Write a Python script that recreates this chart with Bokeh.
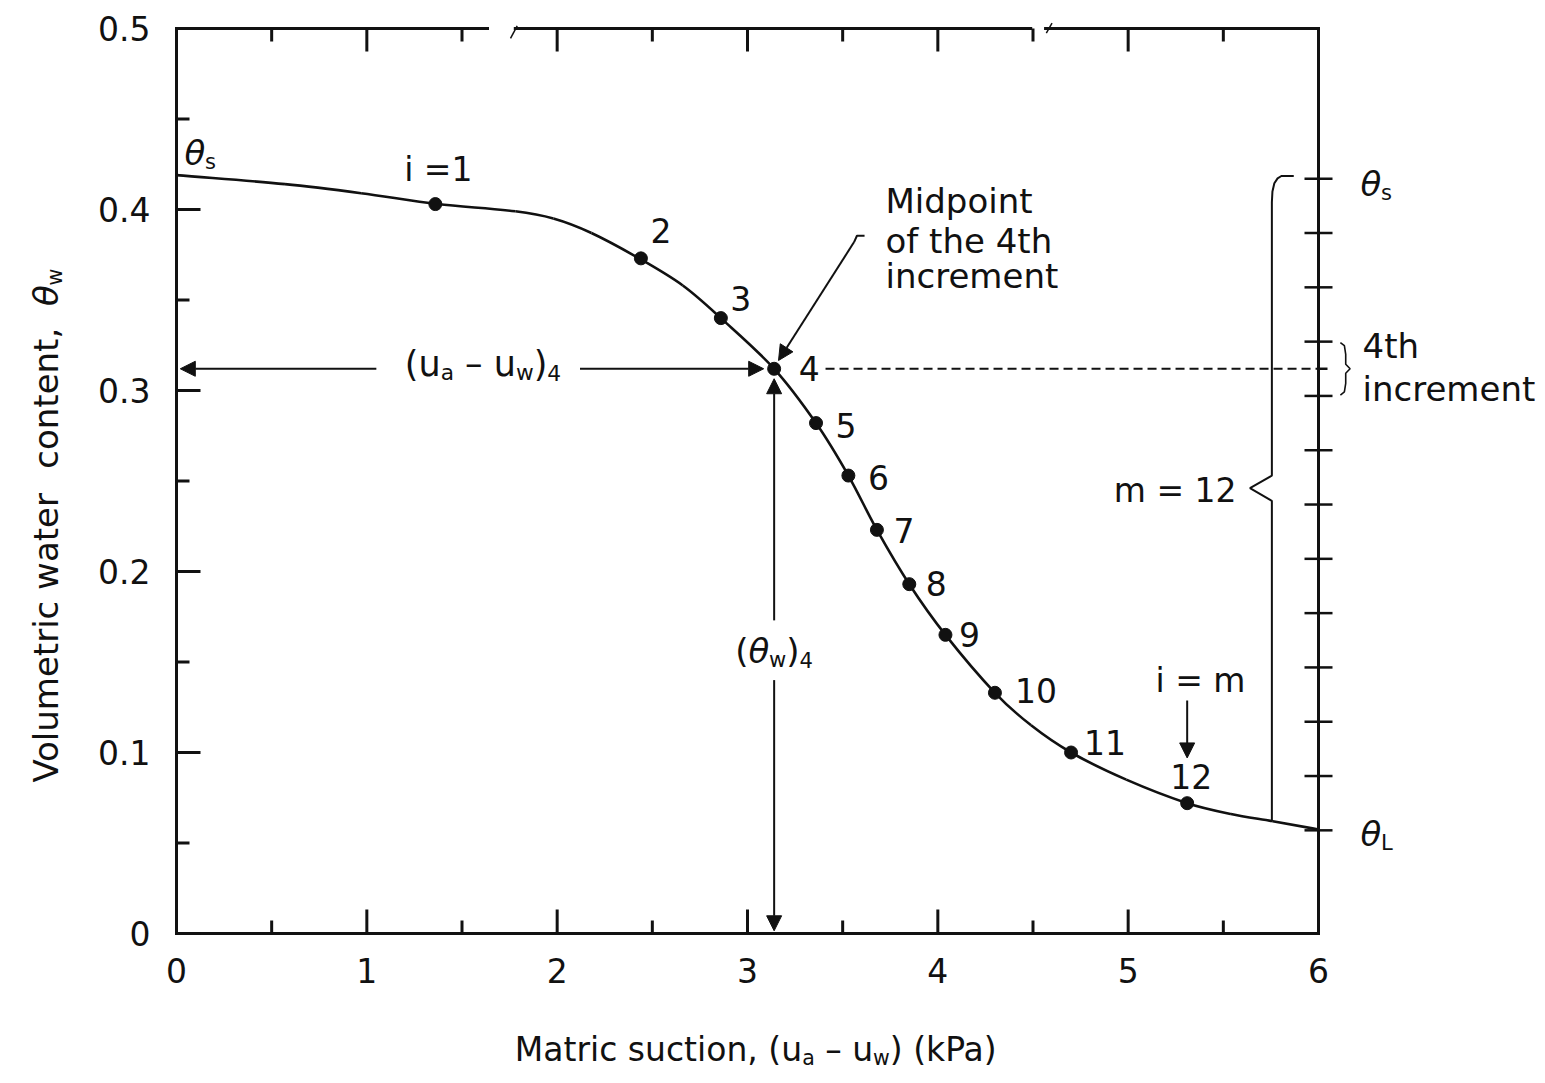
import math
from bokeh.plotting import figure
from bokeh.models import Range1d, Label, Arrow, NormalHead, ColumnDataSource
from bokeh.core.properties import value
from bokeh.embed import file_html
from bokeh.resources import INLINE

# ---------------- data ----------------
curve_x = [0.0, 0.57, 0.97, 1.37, 1.78, 1.98, 2.18, 2.43, 2.66, 2.86, 3.14, 3.36,
           3.53, 3.68, 3.85, 4.04, 4.30, 4.49, 4.70, 4.99, 5.31, 5.54, 5.76, 6.0]
curve_y = [0.419, 0.414, 0.409, 0.403, 0.399, 0.395, 0.387, 0.373, 0.358, 0.340, 0.312, 0.282,
           0.253, 0.223, 0.193, 0.165, 0.133, 0.115, 0.100, 0.085, 0.072, 0.066, 0.062, 0.0575]

point_x = [1.36, 2.44, 2.86, 3.14, 3.36, 3.53, 3.68, 3.85, 4.04, 4.30, 4.70, 5.31]
point_y = [0.403, 0.373, 0.340, 0.312, 0.282, 0.253, 0.223, 0.193, 0.165, 0.133, 0.100, 0.072]
point_labels = ["i =1", "2", "3", "4", "5", "6", "7", "8", "9", "10", "11", "12"]

increment_bounds = [0.417, 0.387, 0.357, 0.327, 0.297, 0.267, 0.237, 0.207,
                    0.177, 0.147, 0.117, 0.087, 0.057]

x_ticks = [0, 1, 2, 3, 4, 5, 6]
x_tick_labels = ["0", "1", "2", "3", "4", "5", "6"]
x_minor = [0.5, 1.5, 2.5, 3.5, 4.5, 5.5]
y_ticks = [0, 0.1, 0.2, 0.3, 0.4, 0.5]
y_tick_labels = ["0", "0.1", "0.2", "0.3", "0.4", "0.5"]
y_minor = [0.05, 0.15, 0.25, 0.35, 0.45]

# ---------------- layout constants ----------------
FONT = "DejaVu Sans"
INK = "#111111"
W_PX, H_PX = 1537, 1075
ORIG_X, ORIG_Y = 176, 933          # pixel position of (0, 0)
PX_X = 1142 / 6.0                  # pixels per x unit
PX_Y = 905 / 0.5                   # pixels per y unit
X_START = -ORIG_X / PX_X
X_END = (W_PX - ORIG_X) / PX_X
Y_START = -(H_PX - ORIG_Y) / PX_Y
Y_END = ORIG_Y / PX_Y

p = figure(width=W_PX, height=H_PX, x_range=Range1d(X_START, X_END), y_range=Range1d(Y_START, Y_END),
           output_backend="svg", toolbar_location=None, x_axis_type=None, y_axis_type=None,
           min_border=0)
p.outline_line_color = None
p.background_fill_color = "white"
p.border_fill_color = "white"

AX_W = 3
dx_px = 1 / PX_X
dy_px = 1 / PX_Y

# ---- left and bottom axes ----
p.segment(x0=[0, 0], y0=[0, 0], x1=[0, 6], y1=[0.5, 0], line_width=AX_W, color=INK,
          line_cap="square")
p.segment(x0=[0] * len(y_ticks), y0=y_ticks, x1=[24 * dx_px] * len(y_ticks), y1=y_ticks,
          line_width=AX_W, color=INK)
p.segment(x0=[0] * len(y_minor), y0=y_minor, x1=[13 * dx_px] * len(y_minor), y1=y_minor,
          line_width=AX_W, color=INK)
p.segment(x0=x_ticks, y0=[0] * len(x_ticks), x1=x_ticks, y1=[24 * dy_px] * len(x_ticks),
          line_width=AX_W, color=INK)
p.segment(x0=x_minor, y0=[0] * len(x_minor), x1=x_minor, y1=[13 * dy_px] * len(x_minor),
          line_width=AX_W, color=INK)
p.text(x=[-26 * dx_px] * len(y_ticks), y=y_ticks, text=y_tick_labels, text_font=value(FONT),
       text_font_size="33px", text_align="right", text_baseline="middle", text_color=INK)
p.text(x=x_ticks, y=[-37 * dy_px] * len(x_ticks), text=x_tick_labels, text_font=value(FONT),
       text_font_size="33px", text_align="center", text_baseline="middle", text_color=INK)

# ---- top border (with breaks) and right border ----
top_x0 = [0.0, 1.78, 4.566]
top_x1 = [1.634, 4.488, 6.0]
p.segment(x0=top_x0, y0=[0.5] * 3, x1=top_x1, y1=[0.5] * 3, line_width=AX_W, color=INK,
          line_cap="square")
p.segment(x0=[1.755, 4.57], y0=[0.4945, 0.4975], x1=[1.79, 4.60], y1=[0.5015, 0.503],
          line_width=1.5, color=INK)
top_major = x_ticks[1:-1]
p.segment(x0=top_major, y0=[0.5] * len(top_major), x1=top_major,
          y1=[0.5 - 23 * dy_px] * len(top_major), line_width=AX_W, color=INK)
p.segment(x0=x_minor, y0=[0.5] * len(x_minor), x1=x_minor,
          y1=[0.5 - 13 * dy_px] * len(x_minor), line_width=AX_W, color=INK)

p.segment(x0=[6], y0=[0], x1=[6], y1=[0.5], line_width=AX_W, color=INK, line_cap="square")
n_b = len(increment_bounds)
p.segment(x0=[6 - 14 * dx_px] * n_b, y0=increment_bounds, x1=[6 + 14 * dx_px] * n_b,
          y1=increment_bounds, line_width=2.5, color=INK)

# ---- curve drawn as smooth cubic Bezier pieces through the read points ----
px = [x * PX_X for x in curve_x]
py = [y * PX_Y for y in curve_y]
n = len(px)
tangents = []
for i in range(n):
    a = max(i - 1, 0)
    b = min(i + 1, n - 1)
    tx, ty = px[b] - px[a], py[b] - py[a]
    L = math.hypot(tx, ty)
    tangents.append((tx / L, ty / L))
bz = dict(x0=[], y0=[], x1=[], y1=[], cx0=[], cy0=[], cx1=[], cy1=[])
for i in range(n - 1):
    d = math.hypot(px[i + 1] - px[i], py[i + 1] - py[i]) / 3
    bz["x0"].append(curve_x[i]); bz["y0"].append(curve_y[i])
    bz["x1"].append(curve_x[i + 1]); bz["y1"].append(curve_y[i + 1])
    bz["cx0"].append((px[i] + tangents[i][0] * d) / PX_X)
    bz["cy0"].append((py[i] + tangents[i][1] * d) / PX_Y)
    bz["cx1"].append((px[i + 1] - tangents[i + 1][0] * d) / PX_X)
    bz["cy1"].append((py[i + 1] - tangents[i + 1][1] * d) / PX_Y)
p.bezier(source=ColumnDataSource(bz), x0="x0", y0="y0", x1="x1", y1="y1",
         cx0="cx0", cy0="cy0", cx1="cx1", cy1="cy1", line_width=2.6, line_color=INK)

p.scatter(point_x, point_y, size=13, color=INK)

mid_x, mid_y = point_x[3], point_y[3]

# point number labels
lab_dx = [3, 20, 20, 35, 30, 30, 27, 27, 24, 41, 34, 4]
lab_dy = [-35, -28, -20, 0, 2, 2, 1, -1, 0, -2, -10, -27]
src = ColumnDataSource(dict(x=point_x, y=point_y, t=point_labels, dx=lab_dx, dy=lab_dy))
p.text(x="x", y="y", text="t", x_offset="dx", y_offset="dy", source=src,
       text_font=value(FONT), text_font_size="33px", text_align="center",
       text_baseline="middle", text_color=INK)

# dashed line to the right axis
p.line([mid_x + 0.27, 6.0], [mid_y, mid_y], line_width=2, color=INK, line_dash="9 5")
p.segment(x0=[6], y0=[mid_y], x1=[6 + 9 * dx_px], y1=[mid_y], line_width=2.5, color=INK)


# ---- arrows ----
def arrow(x0, y0, x1, y1):
    p.add_layout(Arrow(x_start=x0, y_start=y0, x_end=x1, y_end=y1, line_width=2, line_color=INK,
                       end=NormalHead(size=15, fill_color=INK, line_color=INK, line_width=1)))


arrow(1.05, mid_y, 0.02, mid_y)
arrow(2.12, mid_y, mid_x - 0.055, mid_y)
arrow(mid_x, 0.173, mid_x, mid_y - 0.0055)
arrow(mid_x, 0.140, mid_x, 0.0015)
# leader from the "Midpoint" note
p.line([3.615, 3.575, 3.56], [0.3855, 0.3855, 0.382], line_width=2, color=INK)
arrow(3.56, 0.382, mid_x + 0.023, mid_y + 0.0046)
# i = m arrow
arrow(point_x[11], 0.1287, point_x[11], point_y[11] + 0.025)

# ---- bracket for m = 12 ----
bx = 5.755
p.line([bx, bx, 5.64, bx, bx, 5.758, 5.768, 5.785, 5.805, 5.87],
       [0.062, 0.239, 0.246, 0.253, 0.404, 0.410, 0.4145, 0.4172, 0.4185, 0.4185],
       line_width=2, color=INK)

# small brace for the 4th increment
p.line([6.115, 6.136, 6.143, 6.143, 6.166, 6.143, 6.143, 6.136, 6.115],
       [0.3265, 0.3248, 0.320, 0.3145, 0.312, 0.3095, 0.304, 0.2992, 0.2975],
       line_width=1.6, color=INK)

# ---- text helpers ----
W = {' ': .318, '(': .390, ')': .390, ',': .318, '=': .838, '–': .5, '−': .838,
     'M': .863, 'P': .603, 'V': .684, 'L': .557,
     'a': .613, 'c': .550, 'd': .635, 'e': .615, 'h': .634, 'i': .278, 'k': .579, 'l': .278,
     'm': .974, 'n': .634, 'o': .612, 'p': .635, 'r': .411, 's': .521, 't': .392, 'u': .634,
     'w': .818, 'f': .352, 'θ': .602}


def tw(s, size):
    return size * sum(W.get(c, .636) for c in s)


def rich(x, y, pieces, size, angle=0.0, align="center"):
    """pieces: (text, kind) with kind n (normal), it (italic), sub (subscript).
    y is the vertical centre of the main text."""
    sub = 0.62 * size
    widths = [tw(t, sub if k == "sub" else size) for t, k in pieces]
    total = sum(widths)
    pos = -total / 2 if align == "center" else (-total if align == "right" else 0.0)
    ca, sa = math.cos(angle), math.sin(angle)
    for (t, k), w in zip(pieces, widths):
        fs = sub if k == "sub" else size
        lead = len(t) - len(t.lstrip(" "))
        start = pos + tw(" " * lead, fs)
        txt = t.strip(" ")
        if txt:
            dy = -0.27 * size if k == "sub" else 0.0
            p.add_layout(Label(x=x, y=y, x_offset=start * ca - dy * sa, y_offset=start * sa + dy * ca,
                               text=txt, angle=angle, text_font=FONT, text_font_size=f"{fs:.1f}px",
                               text_font_style="italic" if k == "it" else "normal",
                               text_align="left", text_baseline="middle", text_color=INK))
        pos += w


def yc(ref_px):
    return (ORIG_Y - ref_px) / PX_Y


def xc(ref_px):
    return (ref_px - ORIG_X) / PX_X


# axis titles
rich(xc(756), yc(1049), [("Matric suction, (u", "n"), ("a", "sub"), (" – u", "n"), ("w", "sub"),
                         (") (kPa)", "n")], 33)
rich(xc(45), yc(525), [("Volumetric water", "n"), ("  ", "n"), ("content,", "n"), ("  ", "n"),
                       ("θ", "it"), ("w", "sub")], 34, angle=math.pi / 2)

# annotations
rich(1.61, yc(363), [("(u", "n"), ("a", "sub"), (" – u", "n"), ("w", "sub"), (")", "n"),
                     ("4", "sub")], 35)
rich(mid_x, yc(650), [("(", "n"), ("θ", "it"), ("w", "sub"), (")", "n"), ("4", "sub")], 34)
rich(xc(1200), yc(680), [("i = m", "n")], 33)
rich(xc(1236), yc(490), [("m = 12", "n")], 33, align="right")
rich(xc(885), yc(200), [("Midpoint", "n")], 34, align="left")
rich(xc(885), yc(240), [("of the 4th", "n")], 34, align="left")
rich(xc(885), yc(275), [("increment", "n")], 34, align="left")
rich(xc(184), yc(152), [("θ", "it"), ("s", "sub")], 34, align="left")
rich(xc(1360), yc(183), [("θ", "it"), ("s", "sub")], 34, align="left")
rich(xc(1360), yc(833), [("θ", "it"), ("L", "sub")], 34, align="left")
rich(xc(1362), yc(345), [("4th", "n")], 34, align="left")
rich(xc(1362), yc(388), [("increment", "n")], 34, align="left")

open("out.html", "w").write(file_html(p, INLINE))
